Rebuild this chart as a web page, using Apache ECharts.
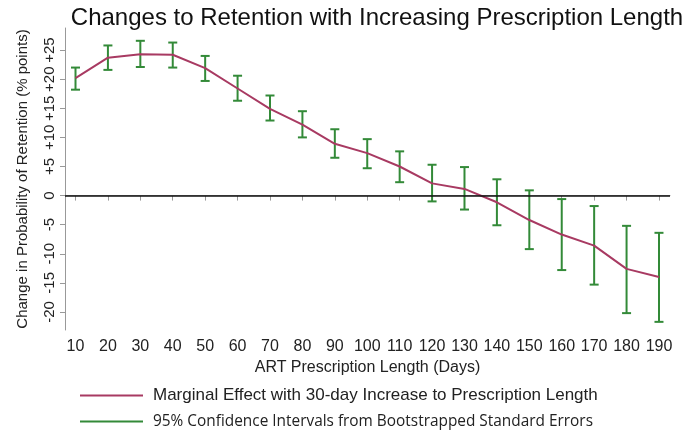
<!DOCTYPE html>
<html><head><meta charset="utf-8">
<script src="https://cdn.jsdelivr.net/npm/echarts@6/dist/echarts.min.js"></script>
<style>html,body{margin:0;padding:0;background:#fff}#c{width:691px;height:439px}</style>
</head><body><div id="c"></div>
<script>
const days = [10,20,30,40,50,60,70,80,90,100,110,120,130,140,150,160,170,180,190];
const effect = [20.2,23.7,24.3,24.2,21.9,18.4,14.9,12.2,8.9,7.3,5.0,2.1,1.15,-1.15,-4.2,-6.7,-8.6,-12.6,-14.0];
const ciUpper = [22.0,25.8,26.6,26.3,24.0,20.6,17.2,14.5,11.4,9.7,7.6,5.3,4.9,2.8,0.9,-0.6,-1.8,-5.2,-6.4];
const ciLower = [18.2,21.6,22.1,22.0,19.7,16.3,12.9,10.0,6.5,4.7,2.3,-1.0,-2.4,-5.1,-9.2,-12.8,-15.3,-20.2,-21.7];
const yTicks = [-20,-15,-10,-5,0,5,10,15,20,25];
const xTicks = days;
const seriesNames = ['Marginal Effect with 30-day Increase to Prescription Length','95% Confidence Intervals from Bootstrapped Standard Errors'];
const titleText = 'Changes to Retention with Increasing Prescription Length';

const RED = '#A83A62', GREEN = '#338A38', FONT = 'Liberation Sans, Arial, sans-serif';
const chart = echarts.init(document.getElementById('c'));
chart.setOption({
  animation: false,
  title: {text: titleText, left: 372, textAlign: 'center', top: 1,
    textStyle: {fontFamily: FONT, fontSize: 24, fontWeight: 'normal', color: '#111'}},
  grid: {left: 65, right: 21, top: 28, bottom: 109, containLabel: false},
  legend: [
    {left: 80, top: 387, padding: 0, itemWidth: 63, itemHeight: 2, icon: 'rect',
     textStyle: {fontFamily: FONT, fontSize: 17, color: '#222', padding: [0,0,0,5]},
     data: [seriesNames[0]]},
    {left: 80, top: 414, padding: 0, itemWidth: 63, itemHeight: 2, icon: 'rect',
     textStyle: {fontFamily: 'Open Sans, sans-serif', fontSize: 15.4, color: '#222', padding: [0,0,0,5]},
     data: [seriesNames[1]]}
  ],
  xAxis: {type: 'value', min: 6.76, max: 193.4,
    name: 'ART Prescription Length (Days)', nameLocation: 'middle', nameGap: 23,
    nameTextStyle: {fontFamily: FONT, fontSize: 16, color: '#222'},
    axisLine: {lineStyle: {color: '#999', width: 1}},
    axisTick: {customValues: xTicks, length: 5, lineStyle: {color: '#999'}},
    axisLabel: {customValues: xTicks, fontFamily: FONT, fontSize: 16, color: '#222', margin: 9},
    splitLine: {show: false}},
  yAxis: {type: 'value', min: -23.1, max: 28.8,
    name: 'Change in Probability of Retention (% points)', nameLocation: 'middle', nameGap: 35,
    nameTextStyle: {fontFamily: FONT, fontSize: 15, color: '#222'},
    axisLine: {show: true, lineStyle: {color: '#999', width: 1}},
    axisTick: {show: true, customValues: yTicks, length: 5, lineStyle: {color: '#999'}},
    axisLabel: {customValues: yTicks, rotate: 90, fontFamily: FONT, fontSize: 15, color: '#222', margin: 8,
      formatter: v => v > 0 ? '+' + v : String(v)},
    splitLine: {show: false}},
  series: [
    {name: seriesNames[0], type: 'line', data: days.map((d,i)=>[d, effect[i]]),
     symbol: 'none', lineStyle: {color: RED, width: 2}, itemStyle: {color: RED}, z: 3,
     markLine: {silent: true, symbol: 'none', label: {show: false},
       lineStyle: {color: '#111', width: 1.5, type: 'solid'}, data: [{yAxis: 0}]}},
    {name: seriesNames[1], type: 'custom', itemStyle: {color: GREEN}, z: 2,
     data: days.map((d,i)=>[d, ciLower[i], ciUpper[i]]),
     renderItem: (params, api) => {
       const x = api.value(0);
       const lo = api.coord([x, api.value(1)]);
       const hi = api.coord([x, api.value(2)]);
       const w = 4.5;
       const st = {stroke: GREEN, lineWidth: 2};
       return {type: 'group', children: [
         {type: 'line', shape: {x1: lo[0], y1: lo[1], x2: hi[0], y2: hi[1]}, style: st},
         {type: 'line', shape: {x1: lo[0]-w, y1: lo[1], x2: lo[0]+w, y2: lo[1]}, style: st},
         {type: 'line', shape: {x1: hi[0]-w, y1: hi[1], x2: hi[0]+w, y2: hi[1]}, style: st}
       ]};
     }}
  ]
});
</script></body></html>
